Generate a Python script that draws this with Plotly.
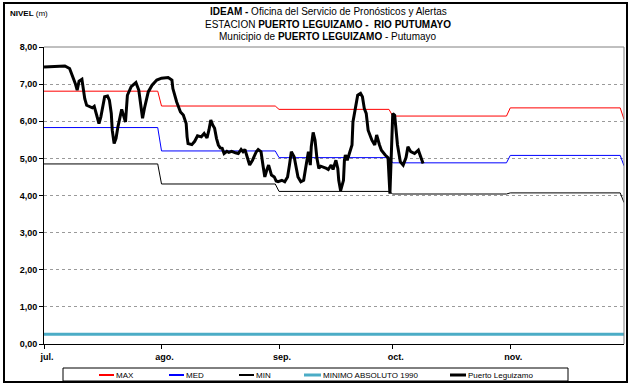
import plotly.graph_objects as go
import pandas as pd

# ---- Monthly reference levels (m); the last entry is the value on Dec 1 ----
month_starts = ["2011-07-01", "2011-08-01", "2011-09-01", "2011-10-01", "2011-11-01", "2011-12-01"]
month_labels = ["jul.", "ago.", "sep.", "oct.", "nov."]
nivel_max = [6.81, 6.41, 6.32, 6.14, 6.36, 6.05]
nivel_med = [5.83, 5.20, 5.02, 4.88, 5.08, 4.80]
nivel_min = [4.85, 4.31, 4.11, 4.04, 4.07, 3.81]
minimo_absoluto_1990 = 0.26

series_names = ["MAX", "MED", "MIN", "MINIMO ABSOLUTO 1990", "Puerto Leguizamo"]
series_colors = ["#ff0000", "#0000ff", "#000000", "#4bacc6", "#000000"]
series_widths = [1, 1, 1, 3, 3]

# ---- Observed levels at Puerto Leguizamo (m) ----
obs_time = [
    "07-01 00:00", "07-04 00:00", "07-06 12:00", "07-07 18:00", "07-08 06:00", "07-09 06:00",
    "07-09 18:00", "07-10 06:00", "07-11 00:00", "07-11 06:00", "07-11 18:00", "07-12 06:00",
    "07-13 00:00", "07-13 18:00", "07-14 06:00", "07-14 12:00", "07-15 00:00", "07-15 12:00",
    "07-16 00:00", "07-16 12:00", "07-17 00:00", "07-17 18:00", "07-18 06:00", "07-18 18:00",
    "07-19 00:00", "07-19 12:00", "07-20 00:00", "07-20 12:00", "07-21 00:00", "07-21 12:00",
    "07-22 12:00", "07-23 00:00", "07-24 00:00", "07-25 06:00", "07-26 00:00", "07-26 12:00",
    "07-27 00:00", "07-27 12:00", "07-28 12:00", "07-29 12:00", "07-30 18:00", "08-01 00:00",
    "08-02 18:00", "08-03 18:00", "08-04 00:00", "08-05 00:00", "08-06 00:00", "08-06 18:00",
    "08-07 12:00", "08-07 18:00", "08-08 00:00", "08-09 00:00", "08-09 18:00", "08-10 12:00",
    "08-11 12:00", "08-12 06:00", "08-13 00:00", "08-13 12:00", "08-14 00:00", "08-14 12:00",
    "08-15 00:00", "08-15 12:00", "08-16 00:00", "08-16 12:00", "08-17 00:00", "08-17 12:00",
    "08-18 06:00", "08-18 18:00", "08-19 12:00", "08-20 12:00", "08-21 06:00", "08-22 00:00",
    "08-22 12:00", "08-23 00:00", "08-23 12:00", "08-24 06:00", "08-25 00:00", "08-26 00:00",
    "08-26 12:00", "08-27 06:00", "08-27 18:00", "08-28 06:00", "08-28 18:00", "08-29 06:00",
    "08-29 12:00", "08-30 00:00", "08-30 18:00", "08-31 06:00", "08-31 18:00", "09-01 18:00",
    "09-02 12:00", "09-03 06:00", "09-03 18:00", "09-04 06:00", "09-05 00:00", "09-05 12:00",
    "09-06 00:00", "09-06 18:00", "09-07 12:00", "09-08 00:00", "09-08 18:00", "09-09 06:00",
    "09-09 12:00", "09-10 00:00", "09-10 12:00", "09-11 00:00", "09-11 12:00", "09-12 00:00",
    "09-12 18:00", "09-13 12:00", "09-14 00:00", "09-14 18:00", "09-15 06:00", "09-16 00:00",
    "09-16 12:00", "09-16 18:00", "09-17 06:00", "09-18 00:00", "09-18 06:00", "09-18 12:00",
    "09-19 00:00", "09-19 18:00", "09-20 06:00", "09-20 12:00", "09-21 06:00", "09-21 18:00",
    "09-22 12:00", "09-23 00:00", "09-23 12:00", "09-24 00:00", "09-24 12:00", "09-25 12:00",
    "09-26 06:00", "09-26 18:00", "09-27 12:00", "09-28 00:00", "09-29 00:00", "09-29 18:00",
    "09-30 06:00", "10-01 00:00", "10-01 12:00", "10-01 18:00", "10-02 06:00", "10-03 00:00",
    "10-03 18:00", "10-04 12:00", "10-05 00:00", "10-05 18:00", "10-06 18:00", "10-07 18:00",
    "10-08 12:00", "10-09 00:00",
]
obs_level = [
    7.46, 7.48, 7.49, 7.42, 7.29, 7.02,
    6.84, 7.08, 7.13, 6.97, 6.61, 6.43,
    6.39, 6.36, 6.40, 6.30, 6.12, 5.94,
    6.12, 6.43, 6.66, 6.68, 6.57, 6.21,
    5.76, 5.40, 5.54, 5.85, 6.12, 6.32,
    5.98, 6.70, 6.93, 7.04, 6.84, 6.40,
    6.08, 6.35, 6.79, 6.97, 7.11, 7.16,
    7.18, 7.11, 6.88, 6.52, 6.25, 6.17,
    5.94, 5.58, 5.40, 5.37, 5.46, 5.61,
    5.58, 5.67, 5.55, 5.76, 6.03, 5.90,
    5.81, 5.54, 5.36, 5.28, 5.27, 5.13,
    5.19, 5.16, 5.19, 5.15, 5.13, 5.24,
    5.18, 5.24, 5.04, 4.82, 4.95, 5.18,
    5.24, 5.18, 4.82, 4.50, 4.68, 4.82,
    4.73, 4.55, 4.50, 4.39, 4.37, 4.41,
    4.37, 4.50, 4.82, 5.18, 5.04, 4.73,
    4.50, 4.37, 4.41, 4.73, 5.18, 4.82,
    5.31, 5.70, 5.49, 5.00, 4.73, 4.79,
    4.77, 4.73, 4.70, 4.82, 4.70, 4.95,
    4.73, 4.41, 4.13, 4.41, 4.95, 5.09,
    4.95, 5.18, 5.36, 5.98, 6.39, 6.70,
    6.75, 6.66, 6.34, 6.21, 5.76, 5.49,
    5.36, 5.63, 5.36, 5.22, 5.09, 5.02,
    4.05, 6.21, 6.16, 5.94, 5.36, 4.91,
    4.82, 5.02, 5.31, 5.18, 5.13, 5.22,
    5.00, 4.86,
]
obs_dates = pd.to_datetime(["2011-" + t for t in obs_time])

FONT = "Arial, 'Liberation Sans', sans-serif"


def monthly_steps(values):
    """Hold each monthly value from the 1st to the last day of that month."""
    starts = pd.to_datetime(month_starts)
    xs, ys = [], []
    for i in range(len(starts) - 1):
        xs += [starts[i], starts[i + 1] - pd.Timedelta(days=1)]
        ys += [values[i], values[i]]
    xs.append(starts[-1])
    ys.append(values[-1])
    return xs, ys


fig = go.Figure()
for name, vals, col, w in zip(series_names[:3], [nivel_max, nivel_med, nivel_min],
                              series_colors[:3], series_widths[:3]):
    sx, sy = monthly_steps(vals)
    fig.add_trace(go.Scatter(x=sx, y=sy, mode="lines", name=name,
                             line=dict(color=col, width=w), showlegend=False))

fig.add_trace(go.Scatter(
    x=[month_starts[0], month_starts[-1]],
    y=[minimo_absoluto_1990, minimo_absoluto_1990],
    mode="lines", name=series_names[3],
    line=dict(color=series_colors[3], width=series_widths[3]), showlegend=False))

fig.add_trace(go.Scatter(
    x=obs_dates, y=obs_level, mode="lines", name=series_names[4],
    line=dict(color=series_colors[4], width=series_widths[4]), showlegend=False))

# plot-area geometry in pixels
L, R, T, B = 44, 624, 47, 344
W, H = 630, 385


def px_x(px):
    return (px - L) / (R - L)


def px_y(py):
    return (B - py) / (B - T)


shapes = [
    # outer frame
    dict(type="rect", xref="paper", yref="paper", x0=px_x(4), x1=px_x(627),
         y0=px_y(382), y1=px_y(3), line=dict(color="black", width=2)),
    # plot-area top and right edges
    dict(type="line", xref="paper", yref="paper", x0=0, x1=1, y0=1, y1=1,
         line=dict(color="#808080", width=1)),
    dict(type="line", xref="paper", yref="paper", x0=1, x1=1, y0=0, y1=1,
         line=dict(color="#808080", width=1)),
    # legend box
    dict(type="rect", xref="paper", yref="paper", x0=px_x(63), x1=px_x(568),
         y0=px_y(381), y1=px_y(368), line=dict(color="black", width=1),
         fillcolor="white"),
]

annotations = [
    dict(text="<b>IDEAM - </b>Oficina del Servicio de Pronósticos y Alertas",
         x=px_x(328), y=px_y(12)),
    dict(text="ESTACION <b>PUERTO LEGUIZAMO -  RIO PUTUMAYO</b>",
         x=px_x(328), y=px_y(24)),
    dict(text="Municipio de <b>PUERTO LEGUIZAMO</b> - Putumayo",
         x=px_x(328), y=px_y(36)),
]
annotations = [dict(a, xref="paper", yref="paper", showarrow=False, xanchor="center",
                    yanchor="middle", font=dict(family=FONT, size=10, color="black"))
               for a in annotations]
annotations.append(dict(text="<b>NIVEL</b> (m)", x=px_x(8), y=px_y(13), xref="paper",
                        yref="paper", showarrow=False, xanchor="left", yanchor="middle",
                        font=dict(family=FONT, size=8, color="black")))

# hand-laid legend row
legend_sample_x = [99, 169, 239, 304, 450]
legend_sample_len = [15, 15, 15, 17, 16]
legend_y = 375
for name, col, w, sx, ln in zip(series_names, series_colors, series_widths,
                                legend_sample_x, legend_sample_len):
    shapes.append(dict(type="line", xref="paper", yref="paper",
                       x0=px_x(sx), x1=px_x(sx + ln), y0=px_y(legend_y), y1=px_y(legend_y),
                       line=dict(color=col, width=w + 1 if w == 1 else w)))
    annotations.append(dict(text=name, x=px_x(sx + ln), y=px_y(legend_y), xref="paper",
                            yref="paper", showarrow=False, xanchor="left", yanchor="middle",
                            font=dict(family=FONT, size=8, color="black")))

fig.update_layout(
    width=W, height=H,
    margin=dict(l=L, r=W - R, t=T, b=H - B),
    paper_bgcolor="white", plot_bgcolor="white",
    separators=",.",
    showlegend=False,
    shapes=shapes,
    annotations=annotations,
    font=dict(family=FONT, color="black"),
    xaxis=dict(
        type="date", range=[month_starts[0], month_starts[-1]],
        tickvals=month_starts[:5], ticktext=["<b>%s</b>" % m for m in month_labels],
        ticks="outside", ticklen=4, tickcolor="black", tickwidth=1,
        ticklabelshift=3,
        showline=True, linecolor="black", linewidth=1,
        showgrid=False, zeroline=False,
        tickfont=dict(family=FONT, size=9, color="black"),
    ),
    yaxis=dict(
        range=[0, 8], tickvals=list(range(0, 9)), tickformat=".2f",
        ticks="outside", ticklen=4, tickcolor="black", tickwidth=1,
        showline=True, linecolor="black", linewidth=1,
        showgrid=True, gridcolor="#9a9a9a", griddash="dot", gridwidth=1,
        zeroline=False,
        tickfont=dict(family=FONT, size=9, color="black", weight="bold"),
    ),
)

fig.write_html("out.html")
